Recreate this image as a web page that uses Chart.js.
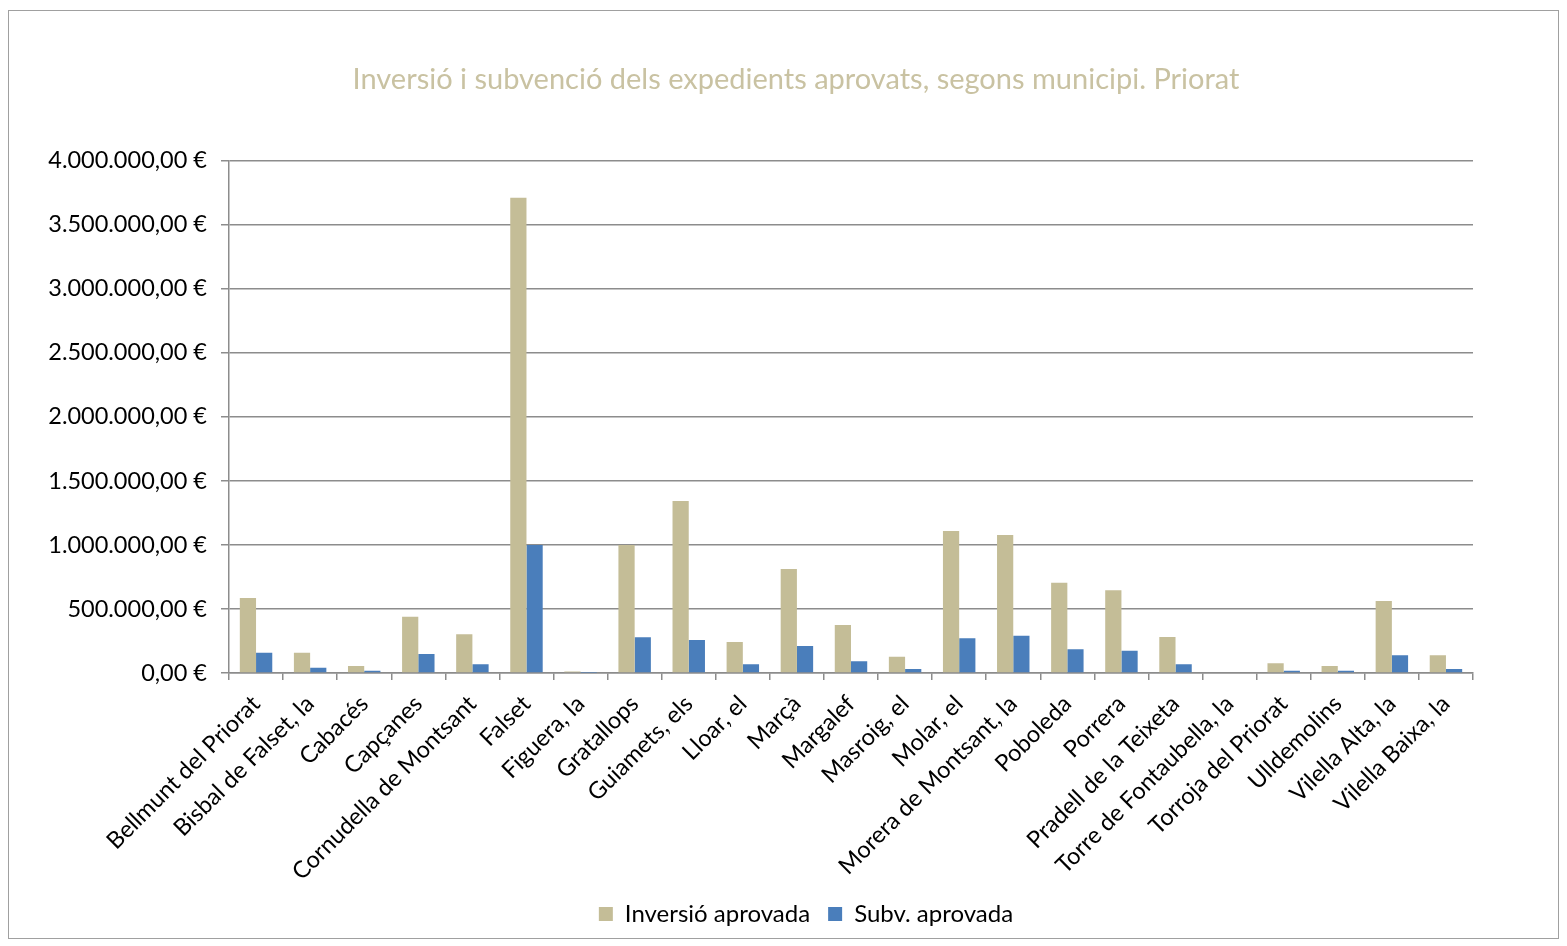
<!DOCTYPE html>
<html><head><meta charset="utf-8">
<script src="https://cdn.jsdelivr.net/npm/chart.js@4/dist/chart.umd.min.js"></script>
<style>
html,body{margin:0;padding:0;background:#fff;}
#wrap{position:relative;width:1567px;height:946px;}
#frame{position:absolute;left:8px;top:10px;width:1551px;height:929px;border:1px solid #a0a0a0;box-sizing:border-box;pointer-events:none;}
canvas{position:absolute;left:0;top:0;}
</style></head>
<body>
<div id="wrap"><canvas id="c" width="1567" height="946"></canvas><div id="frame"></div></div>
<script>
const categories = ["Bellmunt del Priorat","Bisbal de Falset, la","Cabacés","Capçanes","Cornudella de Montsant","Falset","Figuera, la","Gratallops","Guiamets, els","Lloar, el","Marçà","Margalef","Masroig, el","Molar, el","Morera de Montsant, la","Poboleda","Porrera","Pradell de la Teixeta","Torre de Fontaubella, la","Torroja del Priorat","Ulldemolins","Vilella Alta, la","Vilella Baixa, la"];
const inversio = [586000,159000,55000,440000,302000,3711000,12000,1000000,1344000,242000,812000,375000,127000,1109000,1078000,705000,646000,281000,0,76000,55000,562000,138000];
const subvencio = [159000,41000,18000,148000,68000,1000000,2000,279000,258000,68000,211000,91000,31000,271000,291000,185000,174000,68000,0,18000,18000,138000,31000];
const seriesNames = ["Inversió aprovada","Subv. aprovada"];
const titleText = "Inversió i subvenció dels expedients aprovats, segons municipi. Priorat";

const fmt = v => {
  const s = Math.round(v).toString().replace(/\B(?=(\d{3})+(?!\d))/g, ".");
  return s + ",00 €";
};
const FONT = "Lato, 'Open Sans', sans-serif";
const shiftBlocks = {
  id: 'shiftBlocks',
  afterLayout(chart) {
    if (chart.titleBlock) { chart.titleBlock.left = 119; chart.titleBlock.right = 1473; }
    if (chart.legend) { chart.legend.left = 139; chart.legend.right = 1473; }
  }
};
new Chart(document.getElementById('c'), {
  type: 'bar',
  data: {
    labels: categories,
    datasets: [
      {label: seriesNames[0], data: inversio, backgroundColor: '#C4BD97', categoryPercentage: 0.6, barPercentage: 1},
      {label: seriesNames[1], data: subvencio, backgroundColor: '#4A7EBB', categoryPercentage: 0.6, barPercentage: 1}
    ]
  },
  plugins: [shiftBlocks],
  options: {
    responsive: false,
    animation: false,
    layout: {padding: {left: 20, right: 94, top: 0, bottom: 10}},
    plugins: {
      title: {display: true, text: titleText, color: '#C9C2A2', font: {family: FONT, size: 29, weight: 'normal'}, padding: {top: 62, bottom: 64}},
      legend: {position: 'bottom', labels: {color: '#000', font: {family: FONT, size: 24}, boxWidth: 14, boxHeight: 14, padding: 18}},
      tooltip: {enabled: false}
    },
    scales: {
      y: {
        min: 0, max: 4000000,
        ticks: {stepSize: 500000, callback: v => fmt(v), color: '#000', font: {family: FONT, size: 23.5}, padding: 14},
        grid: {color: '#8c8c8c', lineWidth: 1.5, tickLength: 8, tickColor: '#8c8c8c'},
        border: {color: '#8c8c8c', width: 1.5},
        afterFit: s => { s.width = 209; }
      },
      x: {
        ticks: {color: '#000', font: {family: FONT, size: 23.5}, maxRotation: 45, minRotation: 45, autoSkip: false, padding: 10},
        grid: {drawOnChartArea: false, drawTicks: true, tickLength: 7, offset: true, color: '#8c8c8c', lineWidth: 1.5},
        border: {color: '#8c8c8c', width: 1.5},
        afterFit: s => { s.height = 211; }
      }
    }
  }
});
</script>
</body></html>
